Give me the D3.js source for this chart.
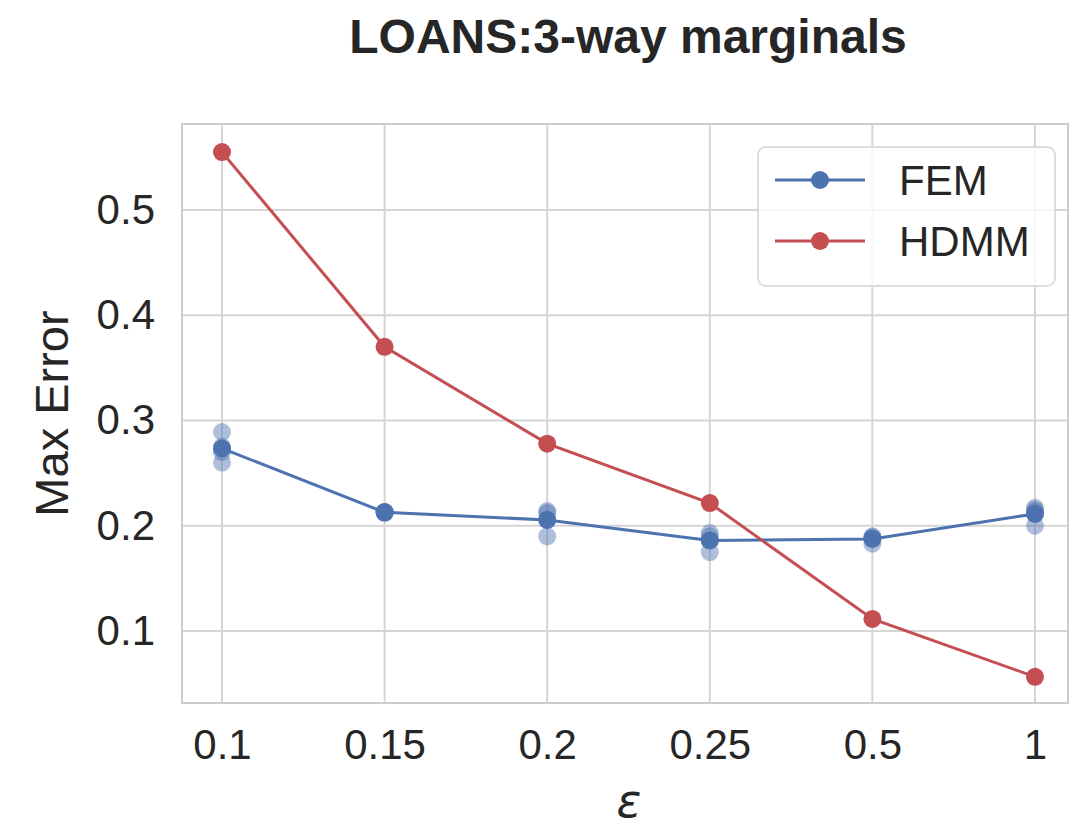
<!DOCTYPE html>
<html>
<head>
<meta charset="utf-8">
<script src="https://cdn.jsdelivr.net/npm/d3@7"></script>
<style>
  body { margin: 0; background: #fff; }
  svg { display: block; font-family: Arial, "Liberation Sans", sans-serif; }
</style>
</head>
<body>
<svg id="chart" width="1070" height="827"></svg>
<script>
// Privacy budget levels (categorical x axis)
const epsilons = ["0.1", "0.15", "0.2", "0.25", "0.5", "1"];

// FEM: individual runs per epsilon
const femRuns = [
  [0.289, 0.275, 0.270, 0.260],
  [0.213, 0.213, 0.212, 0.213],
  [0.214, 0.212, 0.206, 0.190],
  [0.193, 0.190, 0.186, 0.175],
  [0.190, 0.189, 0.188, 0.183],
  [0.217, 0.215, 0.213, 0.200]
];
// HDMM: max error per epsilon
const hdmmValues = [0.555, 0.370, 0.278, 0.2215, 0.1115, 0.0565];

const yTicks = [0.1, 0.2, 0.3, 0.4, 0.5];

const femMeans = femRuns.map(r => d3.mean(r));

const blue = "#4C72B0", red = "#C44E52";
const textColor = "#262626";
const margin = { left: 182, right: 1068, top: 124, bottom: 703 };

const svg = d3.select("#chart");

const x = d3.scaleLinear().domain([-0.246, 5.203]).range([margin.left, margin.right]);
const y = d3.scaleLinear().domain([0.0316, 0.5817]).range([margin.bottom, margin.top]);

// grid
const grid = svg.append("g");
grid.selectAll("line.v").data(epsilons).join("line")
  .attr("x1", (d, i) => x(i)).attr("x2", (d, i) => x(i))
  .attr("y1", margin.top).attr("y2", margin.bottom)
  .attr("stroke", "#d5d5d5").attr("stroke-width", 2);
grid.selectAll("line.h").data(yTicks).join("line")
  .attr("x1", margin.left).attr("x2", margin.right)
  .attr("y1", d => y(d)).attr("y2", d => y(d))
  .attr("stroke", "#d5d5d5").attr("stroke-width", 2);

// frame
svg.append("rect")
  .attr("x", margin.left).attr("y", margin.top)
  .attr("width", margin.right - margin.left).attr("height", margin.bottom - margin.top)
  .attr("fill", "none").attr("stroke", "#cccccc").attr("stroke-width", 2);

// axes (tick labels only)
const xAxis = d3.axisBottom(x).tickValues(d3.range(epsilons.length))
  .tickFormat(i => epsilons[i]).tickSize(0).tickPadding(26);
svg.append("g").attr("transform", `translate(0,${margin.bottom})`).call(xAxis)
  .call(g => g.select(".domain").remove())
  .selectAll("text").attr("font-size", 42).attr("fill", textColor);

const yAxis = d3.axisLeft(y).tickValues(yTicks).tickFormat(d3.format(".1f"))
  .tickSize(0).tickPadding(27);
svg.append("g").attr("transform", `translate(${margin.left},0)`).call(yAxis)
  .call(g => g.select(".domain").remove())
  .selectAll("text").attr("font-size", 42).attr("fill", textColor);

// FEM individual runs
const runPts = [];
femRuns.forEach((runs, i) => runs.forEach(v => runPts.push({ i, v })));
svg.append("g").selectAll("circle").data(runPts).join("circle")
  .attr("cx", d => x(d.i)).attr("cy", d => y(d.v)).attr("r", 9)
  .attr("fill", blue).attr("fill-opacity", 0.45);

// lines
const line = d3.line().x((d, i) => x(i)).y(d => y(d));
svg.append("path").datum(femMeans).attr("d", line)
  .attr("fill", "none").attr("stroke", blue).attr("stroke-width", 3);
svg.append("path").datum(hdmmValues).attr("d", line)
  .attr("fill", "none").attr("stroke", red).attr("stroke-width", 3);

svg.append("g").selectAll("circle").data(femMeans).join("circle")
  .attr("cx", (d, i) => x(i)).attr("cy", d => y(d)).attr("r", 9).attr("fill", blue);
svg.append("g").selectAll("circle").data(hdmmValues).join("circle")
  .attr("cx", (d, i) => x(i)).attr("cy", d => y(d)).attr("r", 9).attr("fill", red);

// legend
const legend = svg.append("g");
legend.append("rect")
  .attr("x", 758).attr("y", 147).attr("width", 297).attr("height", 139).attr("rx", 8)
  .attr("fill", "#ffffff").attr("fill-opacity", 0.8)
  .attr("stroke", "#dddddd").attr("stroke-width", 2);
[{ name: "FEM", color: blue, cy: 180 }, { name: "HDMM", color: red, cy: 241 }].forEach(e => {
  legend.append("line").attr("x1", 775).attr("x2", 865).attr("y1", e.cy).attr("y2", e.cy)
    .attr("stroke", e.color).attr("stroke-width", 3);
  legend.append("circle").attr("cx", 820).attr("cy", e.cy).attr("r", 9).attr("fill", e.color);
  legend.append("text").attr("x", 899).attr("y", e.cy + 15).attr("font-size", 42)
    .attr("fill", textColor).text(e.name);
});

// titles
svg.append("text").attr("x", 628).attr("y", 53).attr("text-anchor", "middle")
  .attr("font-size", 48).attr("font-weight", "bold").attr("fill", textColor)
  .text("LOANS:3-way marginals");
svg.append("text").attr("transform", `translate(68,${(margin.top + margin.bottom) / 2}) rotate(-90)`)
  .attr("text-anchor", "middle").attr("font-size", 47).attr("fill", textColor)
  .text("Max Error");
svg.append("text").attr("x", 629).attr("y", 817).attr("text-anchor", "middle")
  .attr("font-size", 46).attr("font-style", "italic").attr("fill", textColor)
  .attr("font-family", "DejaVu Sans, sans-serif").text("ε");
</script>
</body>
</html>
